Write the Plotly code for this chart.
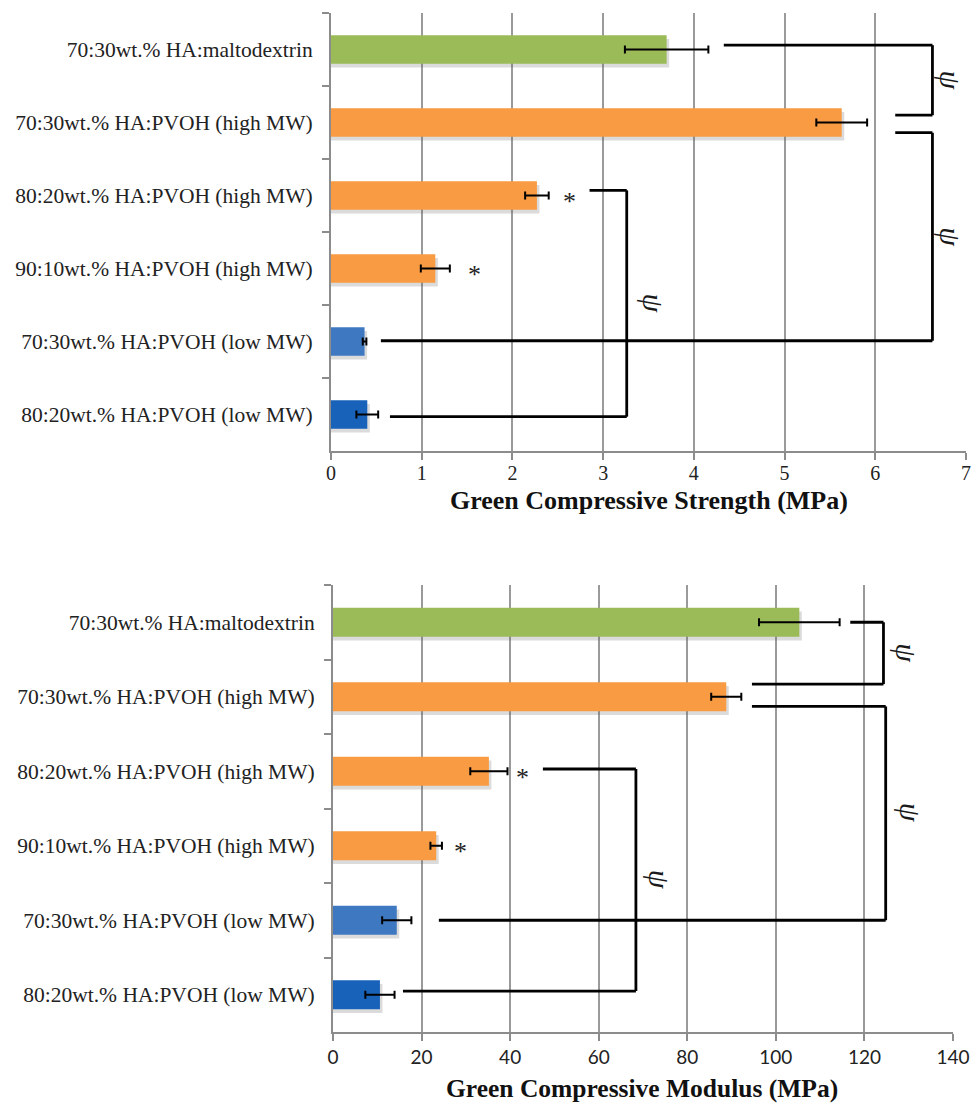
import plotly.graph_objects as go

# Sample groups, listed top to bottom
categories = [
    "70:30wt.% HA:maltodextrin",
    "70:30wt.% HA:PVOH (high MW)",
    "80:20wt.% HA:PVOH (high MW)",
    "90:10wt.% HA:PVOH (high MW)",
    "70:30wt.% HA:PVOH (low MW)",
    "80:20wt.% HA:PVOH (low MW)",
]
bar_colors = ["#9BBB59", "#F99B42", "#F99B42", "#F99B42", "#3D78C0", "#1862BA"]

# Green compressive strength (MPa) and standard deviation
strength = [3.70, 5.63, 2.27, 1.15, 0.37, 0.40]
strength_err = [0.46, 0.28, 0.13, 0.16, 0.02, 0.12]

# Green compressive modulus (MPa) and standard deviation
modulus = [105.3, 88.8, 35.2, 23.3, 14.4, 10.6]
modulus_err = [9.1, 3.4, 4.2, 1.3, 3.3, 3.3]

# Groups marked with an asterisk and the x position of the mark
strength_stars = {2: 2.63, 3: 1.58}
modulus_stars = {2: 42.9, 3: 28.9}

# Significance brackets: (group a, group b, line start a, line start b,
#                         bracket x, offset a, offset b, symbol x)
strength_brackets = [
    (0, 1, 4.33, 6.22, 6.63, -0.06, -0.10, 6.83),
    (1, 4, 6.22, 0.55, 6.63, 0.14, -0.01, 6.83),
    (2, 5, 2.85, 0.65, 3.26, -0.07, 0.03, 3.56),
]
modulus_brackets = [
    (0, 1, 116.8, 94.6, 124.3, 0.00, -0.17, 129.6),
    (1, 4, 94.6, 23.9, 124.8, 0.13, 0.00, 130.4),
    (2, 5, 47.4, 15.8, 68.4, -0.03, -0.05, 73.9),
]

SERIF = "Liberation Serif, Times New Roman, serif"
SANS = "Lato, Open Sans, sans-serif"
BAR_W = 0.39

fig = go.Figure()


def add_panel(values, errors, xref, yref, x_span):
    # soft drop shadow beneath each bar
    nudge = x_span * 0.004
    fig.add_trace(go.Bar(
        x=[v + nudge for v in values], y=categories, orientation="h",
        width=BAR_W, offset=-BAR_W / 2 + 0.05,
        marker=dict(color="rgba(90,90,90,0.22)", line=dict(width=0)),
        xaxis=xref, yaxis=yref, showlegend=False, hoverinfo="skip",
    ))
    fig.add_trace(go.Bar(
        x=values, y=categories, orientation="h",
        width=BAR_W, offset=-BAR_W / 2,
        marker=dict(color=bar_colors, line=dict(width=0)),
        error_x=dict(type="data", array=errors, color="black",
                     thickness=2, width=4),
        xaxis=xref, yaxis=yref, showlegend=False,
    ))


add_panel(strength, strength_err, "x", "y", 7)
add_panel(modulus, modulus_err, "x2", "y2", 140)


def add_marks(stars, brackets, xref, yref):
    for idx, xpos in stars.items():
        fig.add_annotation(x=xpos, y=idx + 0.08, xref=xref, yref=yref,
                           text="*", showarrow=False,
                           font=dict(family=SERIF, size=26, color="#222"))
    line = dict(color="black", width=2.8)
    for a, b, xa, xb, xv, oa, ob, xs in brackets:
        ya, yb = a + oa, b + ob
        fig.add_shape(type="line", xref=xref, yref=yref,
                      x0=xa, x1=xv, y0=ya, y1=ya, line=line)
        fig.add_shape(type="line", xref=xref, yref=yref,
                      x0=xv, x1=xv, y0=ya, y1=yb, line=line)
        fig.add_shape(type="line", xref=xref, yref=yref,
                      x0=xb, x1=xv, y0=yb, y1=yb, line=line)
        fig.add_annotation(x=xs, y=(ya + yb) / 2, xref=xref, yref=yref,
                           text="<i>ψ</i>", textangle=90, showarrow=False,
                           font=dict(family=SERIF, size=30, color="#1a1a1a"))


add_marks(strength_stars, strength_brackets, "x", "y")
add_marks(modulus_stars, modulus_brackets, "x2", "y2")

W, H = 971, 1104
axis_common = dict(showline=True, linecolor="#8c8c8c", linewidth=2,
                   ticks="outside", tickcolor="#8c8c8c", ticklen=7,
                   tickwidth=1.5, zeroline=False, automargin=False)
cat_axis = dict(type="category", categoryarray=categories,
                autorange="reversed", tickson="boundaries",
                showgrid=False, ticklabelstandoff=12,
                tickfont=dict(family=SERIF, size=21.5, color="#222"),
                **axis_common)

fig.update_layout(
    width=W, height=H,
    margin=dict(l=0, r=0, t=0, b=0, autoexpand=False),
    paper_bgcolor="white", plot_bgcolor="white",
    barmode="overlay",
    xaxis=dict(domain=[331 / W, 966 / W], anchor="y", range=[0, 7],
               dtick=1, showgrid=True, gridcolor="#9a9a9a", gridwidth=1.5,
               ticklabelstandoff=-4,
               tickfont=dict(family=SERIF, size=20, color="#222"),
               **axis_common),
    yaxis=dict(domain=[1 - 451 / H, 1 - 13 / H], anchor="x", **cat_axis),
    xaxis2=dict(domain=[333 / W, 953 / W], anchor="y2", range=[0, 140],
                dtick=20, showgrid=True, gridcolor="#9a9a9a", gridwidth=1.5,
                tickfont=dict(family=SANS, size=19, color="#222"),
                **axis_common),
    yaxis2=dict(domain=[1 - 1032 / H, 1 - 585 / H], anchor="x2", **cat_axis),
)

fig.add_annotation(x=649 / W, y=1 - 500 / H, xref="paper", yref="paper",
                   yanchor="middle", xanchor="center",
                   text="<b>Green Compressive Strength (MPa)</b>",
                   showarrow=False,
                   font=dict(family=SERIF, size=26, color="#111"))
fig.add_annotation(x=642 / W, y=1 - 1088 / H, xref="paper", yref="paper",
                   yanchor="middle", xanchor="center",
                   text="<b>Green Compressive Modulus (MPa)</b>",
                   showarrow=False,
                   font=dict(family=SERIF, size=25.5, color="#111"))

fig.write_html("out.html")
